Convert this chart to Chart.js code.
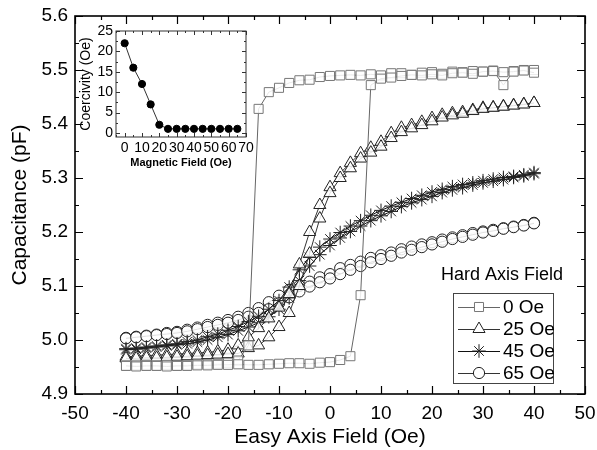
<!DOCTYPE html>
<html>
<head>
<meta charset="utf-8">
<script src="https://cdn.jsdelivr.net/npm/chart.js@4.4.1/dist/chart.umd.min.js"></script>
<style>
  html, body { margin: 0; padding: 0; background: #fff; }
  #wrap { position: relative; width: 597px; height: 450px; }
  #mainChart { position: absolute; left: 0; top: 0; }
  #insetChart { position: absolute; left: 78px; top: 24px; }
</style>
</head>
<body>
<div id="wrap">
  <canvas id="mainChart" width="597" height="450"></canvas>
  <canvas id="insetChart" width="176" height="150"></canvas>
</div>
<script>
// easy axis field sweep points (Oe)
const easyField = [-40, -38, -36, -34, -32, -30, -28, -26, -24, -22, -20, -18, -16, -14, -12, -10, -8, -6, -4, -2,
  0, 2, 4, 6, 8, 10, 12, 14, 16, 18, 20, 22, 24, 26, 28, 30, 32, 34, 36, 38, 40];

// capacitance (pF), rising sweep and falling sweep for each hard axis field
const cap0Up = [4.952, 4.951, 4.952, 4.952, 4.951, 4.952, 4.952, 4.953, 4.953, 4.954, 4.954, 4.955, 4.954, 4.954, 4.955, 4.956, 4.957, 4.957, 4.956, 4.958,
  4.959, 4.963, 4.970, 5.083, 5.472, 5.484, 5.486, 5.489, 5.491, 5.490, 5.492, 5.490, 5.494, 5.495, 5.493, 5.497, 5.498, 5.496, 5.497, 5.499, 5.495];
const cap0Down = [4.953, 4.953, 4.954, 4.953, 4.954, 4.953, 4.954, 4.955, 4.955, 4.956, 4.958, 4.962, 4.990, 5.428, 5.459, 5.467, 5.476, 5.481, 5.482, 5.487,
  5.489, 5.490, 5.491, 5.490, 5.492, 5.490, 5.494, 5.494, 5.491, 5.495, 5.496, 5.493, 5.497, 5.496, 5.498, 5.497, 5.499, 5.472, 5.498, 5.500, 5.500];

const cap25Up = [4.966, 4.966, 4.967, 4.967, 4.968, 4.969, 4.970, 4.971, 4.972, 4.973, 4.974, 4.975, 4.985, 4.990, 5.005, 5.024, 5.050, 5.100, 5.160, 5.225,
  5.272, 5.300, 5.318, 5.336, 5.347, 5.358, 5.374, 5.385, 5.392, 5.398, 5.405, 5.412, 5.416, 5.419, 5.424, 5.428, 5.430, 5.432, 5.434, 5.436, 5.439];
const cap25Down = [4.969, 4.970, 4.971, 4.972, 4.973, 4.974, 4.975, 4.976, 4.977, 4.979, 4.982, 4.990, 5.005, 5.022, 5.040, 5.060, 5.085, 5.140, 5.200, 5.250,
  5.283, 5.309, 5.328, 5.346, 5.356, 5.367, 5.383, 5.393, 5.398, 5.404, 5.411, 5.417, 5.420, 5.422, 5.426, 5.430, 5.431, 5.433, 5.435, 5.437, 5.439];

const cap45Up = [4.982, 4.983, 4.985, 4.987, 4.989, 4.991, 4.993, 4.996, 5.000, 5.005, 5.010, 5.017, 5.024, 5.032, 5.043, 5.057, 5.078, 5.110, 5.137, 5.158,
  5.175, 5.189, 5.201, 5.211, 5.221, 5.230, 5.238, 5.247, 5.254, 5.260, 5.266, 5.273, 5.278, 5.282, 5.287, 5.291, 5.294, 5.297, 5.301, 5.304, 5.308];
const cap45Down = [4.984, 4.985, 4.987, 4.989, 4.991, 4.993, 4.997, 5.000, 5.006, 5.011, 5.018, 5.025, 5.034, 5.044, 5.057, 5.073, 5.098, 5.130, 5.153, 5.172,
  5.187, 5.199, 5.211, 5.221, 5.231, 5.240, 5.248, 5.255, 5.262, 5.268, 5.274, 5.279, 5.284, 5.288, 5.291, 5.295, 5.298, 5.301, 5.303, 5.306, 5.310];

const cap65Up = [5.003, 5.005, 5.007, 5.009, 5.011, 5.013, 5.016, 5.020, 5.024, 5.028, 5.032, 5.037, 5.043, 5.050, 5.057, 5.068, 5.079, 5.090, 5.099, 5.107,
  5.114, 5.122, 5.130, 5.137, 5.144, 5.150, 5.156, 5.162, 5.167, 5.172, 5.177, 5.182, 5.187, 5.191, 5.195, 5.199, 5.202, 5.206, 5.209, 5.212, 5.216];
const cap65Down = [5.004, 5.006, 5.008, 5.010, 5.013, 5.015, 5.019, 5.023, 5.028, 5.032, 5.037, 5.043, 5.050, 5.059, 5.070, 5.082, 5.093, 5.100, 5.108, 5.116,
  5.122, 5.133, 5.139, 5.145, 5.152, 5.157, 5.162, 5.168, 5.173, 5.177, 5.181, 5.186, 5.190, 5.194, 5.198, 5.201, 5.204, 5.207, 5.210, 5.213, 5.217];

const seriesNames = ['0 Oe', '25 Oe', '45 Oe', '65 Oe'];

// inset: coercivity vs hard axis field
const magField = [0, 5, 10, 15, 20, 25, 30, 35, 40, 45, 50, 55, 60, 65];
const coercivity = [22, 16, 12, 7, 2, 1, 1, 1, 1, 1, 1, 1, 1, 1];

const FONT = '"Liberation Sans", Arial, sans-serif';

const pts = (ys) => easyField.map((x, i) => ({x: x, y: ys[i]}));

const styles = [
  {pointStyle: 'rect', radius: 6.4, color: '#777', line: '#666'},
  {pointStyle: 'triangle', radius: 7, color: '#222', line: '#333'},
  {pointStyle: 'star', radius: 6.8, color: '#222', line: '#111'},
  {pointStyle: 'circle', radius: 5.6, color: '#222', line: '#333'}
];

const makeSet = (label, ys, s) => ({
  label: label,
  data: pts(ys),
  showLine: true,
  borderColor: s.line,
  borderWidth: 1,
  pointStyle: s.pointStyle,
  pointRadius: s.radius,
  pointBorderColor: s.color,
  pointBorderWidth: 1,
  pointBackgroundColor: 'rgba(255,255,255,0.85)',
  tension: 0
});

const upSets = [cap0Up, cap25Up, cap45Up, cap65Up];
const downSets = [cap0Down, cap25Down, cap45Down, cap65Down];
const datasets = [];
seriesNames.forEach((name, i) => {
  datasets.push(makeSet(name, upSets[i], styles[i]));
  datasets.push(makeSet(name, downSets[i], styles[i]));
});

// keep the plot box where we put it: no extra room for edge labels
const fixSize = (w, h) => (scale) => {
  if (w) scale.width = w;
  if (h) scale.height = h;
  scale.paddingLeft = 0;
  scale.paddingRight = 0;
  scale.paddingTop = 0;
  scale.paddingBottom = 0;
};

// inward ticks on all four sides plus the frame
const frameTicks = {
  id: 'frameTicks',
  afterDraw(chart, args, opts) {
    const {ctx, chartArea: a, scales} = chart;
    const x = scales.x, y = scales.y;
    ctx.save();
    ctx.strokeStyle = opts.color;
    ctx.lineWidth = opts.tickWidth;
    const majorX = x.ticks.map(t => t.value);
    const majorY = y.ticks.map(t => t.value);
    const minors = (vals, lo, hi) => {
      const out = [];
      const step = vals[1] - vals[0];
      vals.forEach(v => {
        [v - step / 2, v + step / 2].forEach(m => {
          if (m >= lo - 1e-9 && m <= hi + 1e-9 && !out.some(o => Math.abs(o - m) < 1e-9)) out.push(m);
        });
      });
      return out;
    };
    const minorX = minors(majorX, x.min, x.max);
    const minorY = minors(majorY, y.min, y.max);
    ctx.beginPath();
    const vx = (v, len) => {
      const px = Math.round(x.getPixelForValue(v)) + 0.5;
      ctx.moveTo(px, a.bottom); ctx.lineTo(px, a.bottom - len);
      ctx.moveTo(px, a.top); ctx.lineTo(px, a.top + len);
    };
    const vy = (v, len) => {
      const py = Math.round(y.getPixelForValue(v)) + 0.5;
      ctx.moveTo(a.left, py); ctx.lineTo(a.left + len, py);
      ctx.moveTo(a.right, py); ctx.lineTo(a.right - len, py);
    };
    majorX.forEach(v => vx(v, opts.major));
    minorX.forEach(v => vx(v, opts.minor));
    majorY.forEach(v => vy(v, opts.major));
    minorY.forEach(v => vy(v, opts.minor));
    ctx.stroke();
    ctx.lineWidth = opts.frameWidth;
    ctx.strokeRect(a.left, a.top, a.right - a.left, a.bottom - a.top);
    ctx.restore();
  }
};

// legend box inside the plot area
const hardAxisLegend = {
  id: 'hardAxisLegend',
  afterDraw(chart) {
    const ctx = chart.ctx;
    ctx.save();
    ctx.fillStyle = '#000';
    ctx.font = '18px ' + FONT;
    ctx.textAlign = 'center';
    ctx.textBaseline = 'middle';
    ctx.fillText('Hard Axis Field', 502, 275);
    ctx.strokeStyle = '#444';
    ctx.lineWidth = 1;
    ctx.strokeRect(453.5, 293.5, 100, 90);
    ctx.textAlign = 'left';
    ctx.font = '19px ' + FONT;
    seriesNames.forEach((name, i) => {
      const yy = 307 + i * 22;
      const s = styles[i];
      ctx.strokeStyle = s.line;
      ctx.beginPath();
      ctx.moveTo(458, yy + 0.5);
      ctx.lineTo(500, yy + 0.5);
      ctx.stroke();
      ctx.fillStyle = '#fff';
      ctx.strokeStyle = s.color;
      Chart.helpers.drawPoint(ctx, {pointStyle: s.pointStyle, radius: s.radius, borderWidth: 1}, 479, yy);
      ctx.fillStyle = '#000';
      ctx.fillText(name, 503, yy + 1);
    });
    ctx.restore();
  }
};

new Chart(document.getElementById('mainChart').getContext('2d'), {
  type: 'scatter',
  data: {datasets: datasets},
  options: {
    responsive: false,
    animation: false,
    devicePixelRatio: 1,
    layout: {padding: {top: 16, right: 12, left: 0, bottom: 0}},
    plugins: {
      legend: {display: false},
      tooltip: {enabled: false},
      frameTicks: {color: '#000', tickWidth: 1.2, frameWidth: 1.6, major: 8, minor: 4}
    },
    scales: {
      x: {
        type: 'linear',
        min: -50,
        max: 50,
        grid: {display: false, drawTicks: false},
        border: {display: false},
        ticks: {stepSize: 10, padding: 8, color: '#000', font: {family: FONT, size: 19}},
        title: {display: true, text: 'Easy Axis Field (Oe)', color: '#000', font: {family: FONT, size: 21}, padding: 0},
        afterFit: fixSize(0, 56)
      },
      y: {
        type: 'linear',
        min: 4.9,
        max: 5.6,
        grid: {display: false, drawTicks: false},
        border: {display: false},
        ticks: {stepSize: 0.1, padding: 7, color: '#000', font: {family: FONT, size: 19},
          callback: (v) => v.toFixed(1)},
        title: {display: true, text: 'Capacitance (pF)', color: '#000', font: {family: FONT, size: 21}, padding: {top: 8, bottom: 0}},
        afterFit: fixSize(75, 0)
      }
    }
  },
  plugins: [frameTicks, hardAxisLegend]
});

new Chart(document.getElementById('insetChart').getContext('2d'), {
  type: 'line',
  data: {
    datasets: [{
      data: magField.map((m, i) => ({x: m, y: coercivity[i]})),
      borderColor: '#333',
      borderWidth: 1,
      pointStyle: 'circle',
      pointRadius: 3.6,
      pointBackgroundColor: '#000',
      pointBorderColor: '#000',
      tension: 0
    }]
  },
  options: {
    responsive: false,
    animation: false,
    devicePixelRatio: 1,
    layout: {padding: {top: 7, right: 8, left: 0, bottom: 0}},
    plugins: {
      legend: {display: false},
      tooltip: {enabled: false},
      frameTicks: {color: '#333', tickWidth: 1, frameWidth: 1, major: 4, minor: 2}
    },
    scales: {
      x: {
        type: 'linear',
        min: -5,
        max: 70,
        grid: {display: false, drawTicks: false},
        border: {display: false},
        ticks: {stepSize: 10, padding: 3, includeBounds: false, maxRotation: 0, autoSkip: false, color: '#000',
          font: {family: FONT, size: 14}},
        title: {display: true, text: 'Magnetic Field (Oe)', color: '#000', font: {family: FONT, size: 11, weight: 'bold'}, padding: {top: 0, bottom: 4}},
        afterFit: fixSize(0, 37)
      },
      y: {
        type: 'linear',
        min: -1,
        max: 25,
        grid: {display: false, drawTicks: false},
        border: {display: false},
        ticks: {stepSize: 5, padding: 3, includeBounds: false, color: '#000', font: {family: FONT, size: 14}},
        title: {display: true, text: 'Coercivity (Oe)', color: '#000', font: {family: FONT, size: 14}, padding: 0},
        afterFit: fixSize(38, 0)
      }
    }
  },
  plugins: [frameTicks]
});
</script>
</body>
</html>
